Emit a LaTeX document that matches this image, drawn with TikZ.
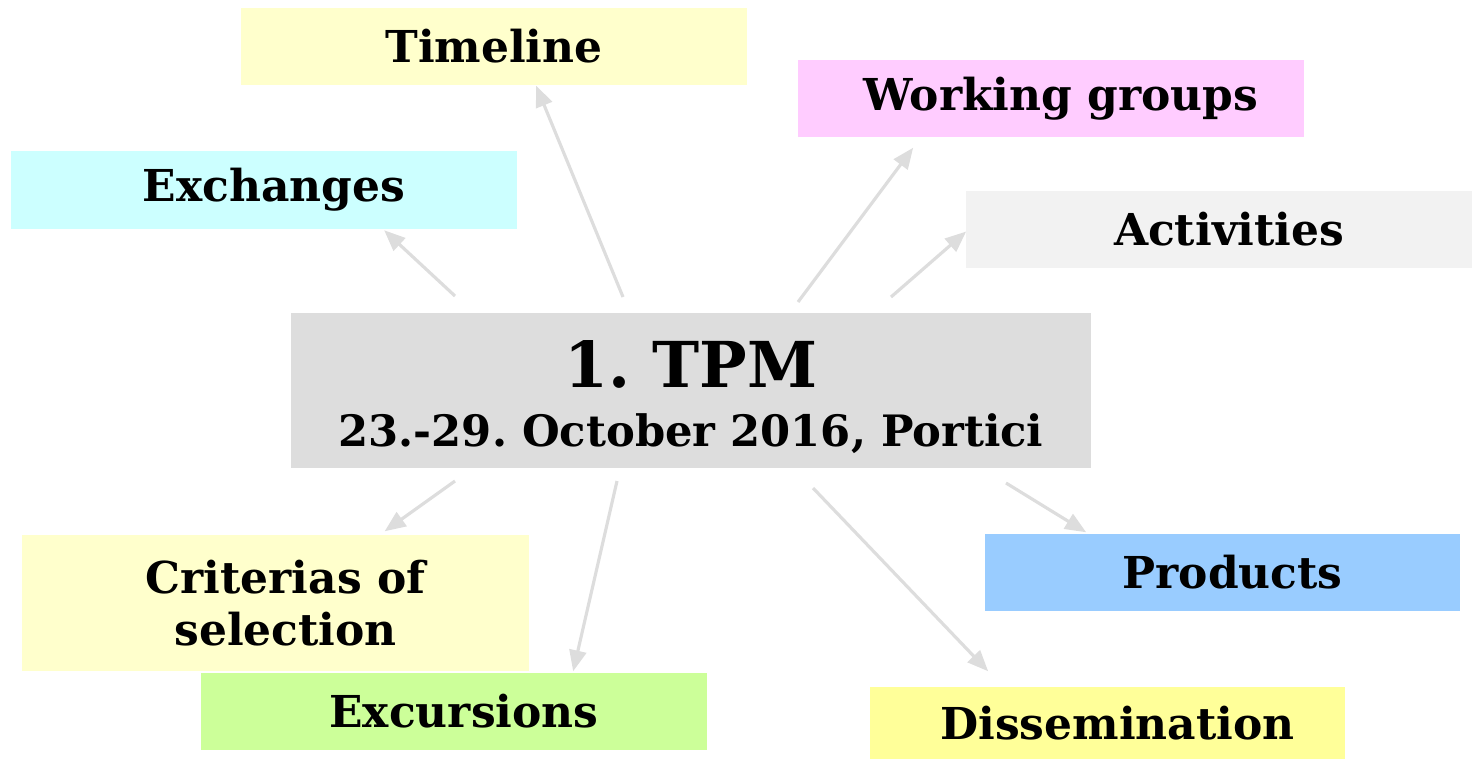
\documentclass[tikz,border=0pt]{standalone}
\usepackage{fontspec}
\setmainfont{DejaVu Serif}
\usetikzlibrary{arrows.meta}

\definecolor{boxyellow}{HTML}{FFFFCC}
\definecolor{boxpink}{HTML}{FFCCFF}
\definecolor{boxcyan}{HTML}{CCFFFF}
\definecolor{boxgrey}{HTML}{F2F2F2}
\definecolor{tpmgrey}{HTML}{DDDDDD}
\definecolor{boxgreen}{HTML}{CCFF99}
\definecolor{boxblue}{HTML}{99CCFF}
\definecolor{boxlemon}{HTML}{FFFF99}
\definecolor{arrgrey}{HTML}{DDDDDD}

\newcommand{\boxfont}{\bfseries\frenchspacing\fontsize{12.5}{15}\selectfont}

\begin{document}
\begin{tikzpicture}[x=0.01cm, y=-0.01cm,
		box/.style={rectangle, inner sep=0pt, minimum width=5.06cm, minimum height=0.77cm, font=\boxfont, fill=#1},
		pad/.style={execute at begin node=\hspace*{2mm}},
		arr/.style={draw=arrgrey, line width=0.9pt, -{Triangle[length=2.1mm, width=1.7mm]}}
	]
	\useasboundingbox (0,0) rectangle (1483,760);
	\node[box=boxyellow] (timeline) at (494,46.5) {Timeline};
	\node[box=boxpink, pad] (groups) at (1051,98.5) {Working groups};
	\node[box=boxcyan, pad] (exch) at (264,190) {Exchanges};
	\node[box=boxgrey, pad] (act) at (1219,229.5) {Activities};
	\node[box=tpmgrey, minimum width=8cm, minimum height=1.55cm, align=center] (tpm) at (691,390.5) {};
	\node[font=\boxfont, inner sep=0pt, align=center] (tpmtext) at (691,397)
		{{\fontsize{18}{20}\selectfont 1. TPM}\\[2pt]{\fontsize{12.3}{15}\selectfont 23.-29. October 2016, Portici}};
	\node[box=boxyellow, pad, minimum height=1.36cm, align=center] (crit) at (275.5,603) {Criterias of\\selection};
	\node[box=boxgreen, pad] (exc) at (454,711.5) {Excursions};
	\node[box=boxblue, pad, minimum width=4.75cm] (prod) at (1222.5,572.5) {Products};
	\node[box=boxlemon, pad, minimum width=4.75cm, minimum height=0.72cm] (diss) at (1107.5,723) {Dissemination};
	\coordinate (sexch) at (455,296);
	\coordinate (stime) at (623,297);
	\coordinate (sgroups) at (798,302);
	\coordinate (sact) at (891,297);
	\coordinate (scrit) at (455,481);
	\coordinate (sexc) at (617,481);
	\coordinate (sdiss) at (813,488);
	\coordinate (sprod) at (1006,483);
	\draw[arr] (sexch) -- ([shift={(374,1)}]exch.south west);
	\draw[arr] (stime) -- ([shift={(296,0)}]timeline.south west);
	\draw[arr] (sgroups) -- ([shift={(116,10)}]groups.south west);
	\draw[arr] (sact) -- ([shift={(1,2)}]act.west);
	\draw[arr] (scrit) -- ([shift={(363,-3)}]crit.north west);
	\draw[arr] (sexc) -- ([shift={(373,-1)}]exc.north west);
	\draw[arr] (sdiss) -- ([shift={(119,-15)}]diss.north west);
	\draw[arr] (sprod) -- ([shift={(102,-1)}]prod.north west);
\end{tikzpicture}
\end{document}
